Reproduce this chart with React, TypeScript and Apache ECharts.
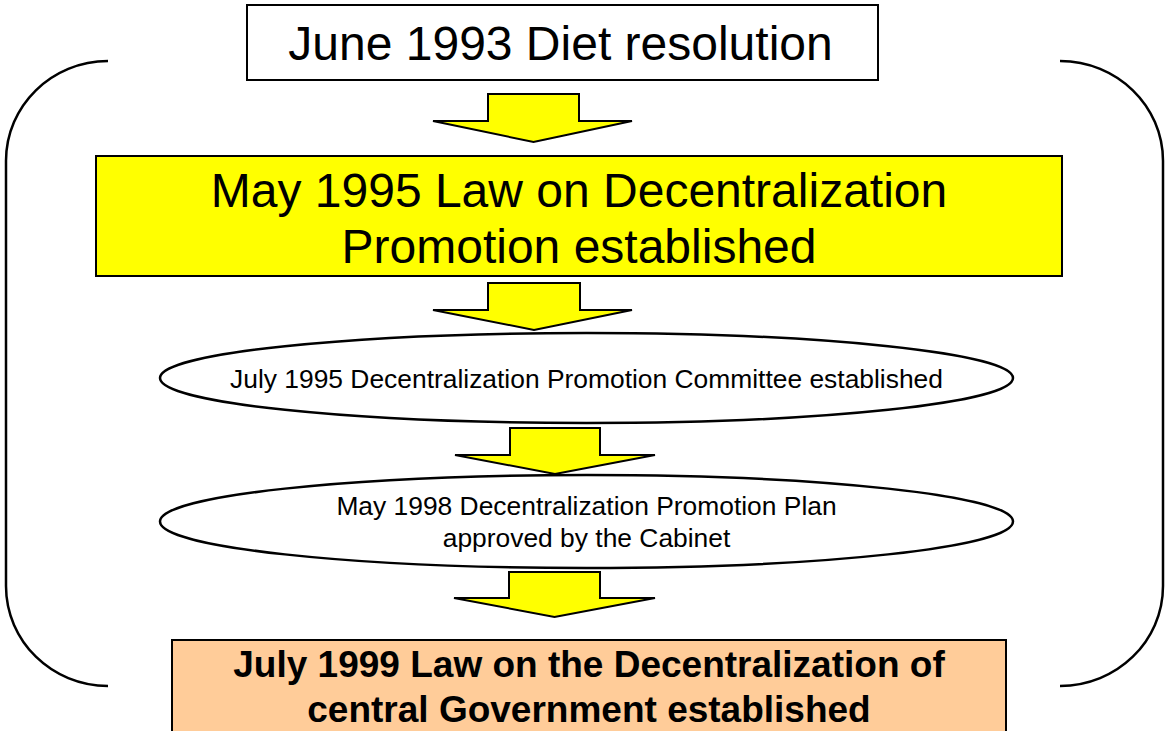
import React, { useEffect, useRef } from "react";
import * as echarts from "echarts";

// Texts of each stage of the flow
const stageTitles: string[][] = [
  ["June 1993 Diet resolution"],
  ["May 1995 Law on Decentralization", "Promotion established"],
  ["July 1995 Decentralization Promotion Committee established"],
  ["May 1998 Decentralization Promotion Plan", "approved by the Cabinet"],
  ["July 1999 Law on the Decentralization of", "central Government established"],
];
const stageKinds: string[] = ["box", "box", "ellipse", "ellipse", "box"];

// layout (positions/sizes), kept separate from the texts
const stageLayout = [
  { x: 247, y: 5, w: 631, h: 75, fill: "#ffffff", font: 48, bold: false, lh: 56 },
  { x: 96, y: 156, w: 966, h: 120, fill: "#ffff00", font: 48, bold: false, lh: 56 },
  { x: 160, y: 333, w: 853, h: 90, fill: "#ffffff", font: 26.4, bold: false, lh: 32 },
  { x: 160, y: 475, w: 853, h: 93, fill: "#ffffff", font: 26.4, bold: false, lh: 32 },
  { x: 172, y: 640, w: 834, h: 100, fill: "#ffcc99", font: 37, bold: true, lh: 45 },
];
const textCenters = [43, 218, 379, 522, 687];

const arrowLayout = [
  { sl: 488, sr: 579, top: 94, base: 121, wl: 433, wr: 632, tip: 142 },
  { sl: 488, sr: 580, top: 283, base: 310, wl: 433, wr: 632, tip: 330 },
  { sl: 510, sr: 600, top: 428, base: 455, wl: 455, wr: 655, tip: 474 },
  { sl: 509, sr: 600, top: 572, base: 598, wl: 454, wr: 655, tip: 617 },
];

export default function App() {
  const ref = useRef<HTMLDivElement>(null);
  useEffect(() => {
    document.body.style.margin = "0";
    if (!ref.current) return;
    const chart = echarts.init(ref.current, null, { renderer: "svg" });
    const elements: any[] = [];
    const K = 0.5523;
    // brackets
    const lx = 6, lEnd = 108, rx = 1163, rEnd = 1060, yTop = 61, yBot = 686, r = 100;
    const bracketStyle = { stroke: "#000", lineWidth: 2.5, fill: null };
    elements.push(
      { type: "bezierCurve", shape: { x1: lEnd, y1: yTop, cpx1: lEnd - (lEnd - lx) * K, cpy1: yTop, cpx2: lx, cpy2: yTop + r * (1 - K), x2: lx, y2: yTop + r }, style: bracketStyle },
      { type: "line", shape: { x1: lx, y1: yTop + r, x2: lx, y2: yBot - r }, style: bracketStyle },
      { type: "bezierCurve", shape: { x1: lx, y1: yBot - r, cpx1: lx, cpy1: yBot - r * (1 - K), cpx2: lEnd - (lEnd - lx) * K, cpy2: yBot, x2: lEnd, y2: yBot }, style: bracketStyle },
      { type: "bezierCurve", shape: { x1: rEnd, y1: yTop, cpx1: rEnd + (rx - rEnd) * K, cpy1: yTop, cpx2: rx, cpy2: yTop + r * (1 - K), x2: rx, y2: yTop + r }, style: bracketStyle },
      { type: "line", shape: { x1: rx, y1: yTop + r, x2: rx, y2: yBot - r }, style: bracketStyle },
      { type: "bezierCurve", shape: { x1: rx, y1: yBot - r, cpx1: rx, cpy1: yBot - r * (1 - K), cpx2: rEnd + (rx - rEnd) * K, cpy2: yBot, x2: rEnd, y2: yBot }, style: bracketStyle }
    );
    // arrows
    arrowLayout.forEach((a) => {
      const cx = (a.sl + a.sr) / 2;
      elements.push({
        type: "polygon",
        shape: {
          points: [
            [a.sl, a.top], [a.sr, a.top], [a.sr, a.base], [a.wr, a.base],
            [cx, a.tip], [a.wl, a.base], [a.sl, a.base],
          ],
        },
        style: { fill: "#ffff00", stroke: "#000", lineWidth: 2, lineJoin: "miter" },
      });
    });
    // stages
    stageTitles.forEach((lines, i) => {
      const L = stageLayout[i];
      if (stageKinds[i] === "box") {
        elements.push({
          type: "rect",
          shape: { x: L.x, y: L.y, width: L.w, height: L.h },
          style: { fill: L.fill, stroke: "#000", lineWidth: 2 },
        });
      } else {
        elements.push({
          type: "ellipse",
          shape: { cx: L.x + L.w / 2, cy: L.y + L.h / 2, rx: L.w / 2, ry: L.h / 2 },
          style: { fill: L.fill, stroke: "#000", lineWidth: 2.5 },
        });
      }
      const cy = textCenters[i];
      const n = lines.length;
      lines.forEach((t, j) => {
        elements.push({
          type: "text",
          x: L.x + L.w / 2 + (i === 0 ? -2 : 0),
          y: cy + (j - (n - 1) / 2) * L.lh,
          style: {
            text: t,
            fill: "#000",
            font: `${L.bold ? "bold " : ""}${L.font}px "Liberation Sans", Arial, sans-serif`,
            textAlign: "center",
            textVerticalAlign: "middle",
          },
        });
      });
    });
    chart.setOption({ animation: false, graphic: { elements } });
    return () => chart.dispose();
  }, []);
  return <div ref={ref} style={{ width: 1165, height: 731, background: "#fff" }} />;
}
